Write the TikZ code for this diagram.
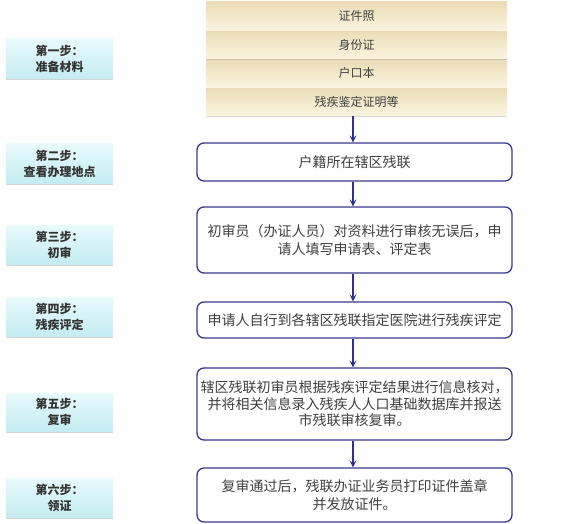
\documentclass[tikz,border=0pt]{standalone}
\usepackage{fontspec}
\newfontfamily\cjk{Noto Sans CJK SC}
\usetikzlibrary{arrows.meta,shadows}
\definecolor{stepline}{RGB}{58,56,140}
\definecolor{steparrow}{RGB}{46,49,146}
\definecolor{cyantop}{RGB}{232,250,252}
\definecolor{cyanbot}{RGB}{196,236,242}
\definecolor{tantop}{RGB}{234,220,182}
\definecolor{tanbot}{RGB}{250,244,224}
\tikzset{
  stepname/.style={minimum width=107pt, inner sep=0pt, align=center,
    top color=cyantop, bottom color=cyanbot,
    drop shadow={shadow xshift=0pt, shadow yshift=-1.5pt, opacity=.35},
    font=\cjk\bfseries\fontsize{12}{16}\selectfont, text=black!80},
  material/.style={minimum width=301pt, minimum height=28.5pt, inner sep=0pt,
    top color=tantop, bottom color=tanbot,
    drop shadow={shadow xshift=0pt, shadow yshift=-1.2pt, opacity=.3},
    font=\cjk\fontsize{12}{14}\selectfont, text=black!75},
  stepbox/.style={draw=stepline, line width=1.3pt, rounded corners=7pt,
    fill=white, minimum width=315pt, inner sep=0pt, align=center,
    font=\cjk\fontsize{14}{18}\selectfont, text=black!75},
  flow/.style={->, >={Stealth[length=7pt, width=7pt, inset=3pt]},
    steparrow, line width=1.3pt}
}
\begin{document}
\begin{tikzpicture}[x=1pt, y=-1pt]
  \useasboundingbox (0, 0) rectangle (562, 524);

  % left column
  \node[stepname, minimum height=40pt] (name1) at (59.5, 59) {第一步：\\准备材料};
  \node[stepname, minimum height=39pt] (name2) at (59.5, 163.5) {第二步：\\查看办理地点};
  \node[stepname, minimum height=39pt] (name3) at (59.5, 244.5) {第三步：\\初审};
  \node[stepname, minimum height=39pt] (name4) at (59.5, 316.5) {第四步：\\残疾评定};
  \node[stepname, minimum height=38pt] (name5) at (59.5, 412) {第五步：\\复审};
  \node[stepname, minimum height=39pt] (name6) at (59.5, 497.5) {第六步：\\领证};

  % materials
  \node[material] (photo) at (356.5, 101.5) {残疾鉴定证明等};
  \node[material] (hukou) at (356.5, 73) {户口本};
  \node[material] (idcard) at (356.5, 44.5) {身份证};
  \node[material] (cert) at (356.5, 16) {证件照};

  % right column
  \node[stepbox, minimum height=38pt] (place) at (354.5, 162) {户籍所在辖区残联};
  \node[stepbox, minimum height=66pt] (check) at (354.5, 240)
    {初审员（办证人员）对资料进行审核无误后，申\\请人填写申请表、评定表};
  \node[stepbox, minimum height=36pt] (assess) at (354.5, 320)
    {申请人自行到各辖区残联指定医院进行残疾评定};
  \node[stepbox, minimum height=72pt, font=\cjk\fontsize{14}{16.5}\selectfont]
    (review) at (354.5, 404)
    {辖区残联初审员根据残疾评定结果进行信息核对，\\并将相关信息录入残疾人人口基础数据库并报送\\市残联审核复审。};
  \node[stepbox, minimum height=54pt] (issue) at (354.5, 495)
    {复审通过后，残联办证业务员打印证件盖章\\并发放证件。};

  \draw[flow] (photo.south -| 353, 0) -- (place.north -| 353, 0);
  \draw[flow] (place.south -| 353, 0) -- (check.north -| 353, 0);
  \draw[flow] (check.south -| 353, 0) -- (assess.north -| 353, 0);
  \draw[flow] (assess.south -| 353, 0) -- (review.north -| 353, 0);
  \draw[flow] (review.south -| 353, 0) -- (issue.north -| 353, 0);
\end{tikzpicture}
\end{document}
